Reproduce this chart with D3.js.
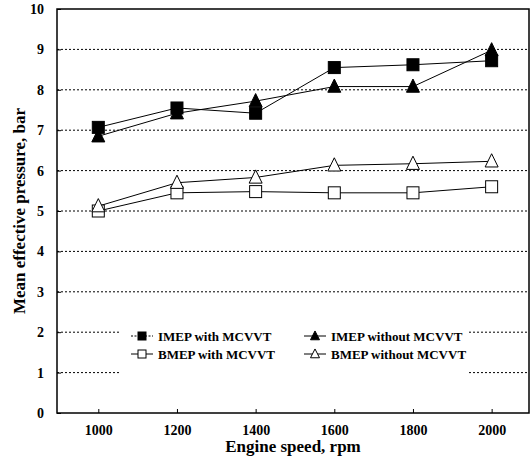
<!DOCTYPE html>
<html>
<head>
<meta charset="utf-8">
<script src="https://cdn.jsdelivr.net/npm/d3@7"></script>
<style>
body { margin: 0; background: #fff; }
text { font-family: "Liberation Serif", "Times New Roman", serif; font-weight: bold; fill: #000; }
</style>
</head>
<body>
<svg width="532" height="460"></svg>
<script>
var speeds = [1000, 1200, 1400, 1600, 1800, 2000];
var imepWith = [7.07, 7.55, 7.42, 8.55, 8.62, 8.72];
var imepWithout = [6.85, 7.42, 7.72, 8.08, 8.08, 8.98];
var bmepWith = [5.0, 5.45, 5.48, 5.45, 5.45, 5.6];
var bmepWithout = [5.12, 5.7, 5.83, 6.13, 6.17, 6.23];
var yTicks = [0, 1, 2, 3, 4, 5, 6, 7, 8, 9, 10];

var series = [
  {name: "IMEP with MCVVT", values: imepWith, shape: "square", fill: "#000", dash: "2,1.5"},
  {name: "IMEP without MCVVT", values: imepWithout, shape: "triangle", fill: "#000", dash: null},
  {name: "BMEP with MCVVT", values: bmepWith, shape: "square", fill: "#fff", dash: null},
  {name: "BMEP without MCVVT", values: bmepWithout, shape: "triangle", fill: "#fff", dash: null}
];

var svg = d3.select("svg");
var plotLeft = 57, plotRight = 529, plotTop = 9, plotBottom = 413;

var x = d3.scaleLinear().domain([895, 2095]).range([plotLeft, plotRight]);
var y = d3.scaleLinear().domain([0, 10]).range([plotBottom, plotTop]);

// dotted gridlines
svg.append("g")
  .selectAll("line")
  .data(yTicks.filter(d => d > 0 && d < 10))
  .enter()
  .append("line")
  .attr("x1", plotLeft).attr("x2", plotRight)
  .attr("y1", d => y(d)).attr("y2", d => y(d))
  .attr("stroke", "#000")
  .attr("stroke-width", 1)
  .attr("stroke-dasharray", "2,2");

// legend background hides the grid behind it
svg.append("rect")
  .attr("x", 121).attr("y", 318)
  .attr("width", 346).attr("height", 64)
  .attr("fill", "#fff");

// frame
svg.append("rect")
  .attr("x", plotLeft).attr("y", plotTop)
  .attr("width", plotRight - plotLeft).attr("height", plotBottom - plotTop)
  .attr("fill", "none")
  .attr("stroke", "#000")
  .attr("stroke-width", 1.5);

// axes
var xAxis = svg.append("g")
  .attr("transform", "translate(0," + plotBottom + ")")
  .call(d3.axisBottom(x).tickValues(speeds).tickSize(-4).tickPadding(12).tickFormat(d3.format("d")));
xAxis.select(".domain").remove();
xAxis.selectAll("text").style("font-size", "14px");

var yAxis = svg.append("g")
  .attr("transform", "translate(" + plotLeft + ",0)")
  .call(d3.axisLeft(y).tickValues(yTicks).tickSize(-4).tickPadding(13));
yAxis.select(".domain").remove();
yAxis.selectAll("text").style("font-size", "14px");

// lines
var line = d3.line()
  .x((d, i) => x(speeds[i]))
  .y(d => y(d));

svg.selectAll(".series")
  .data(series)
  .enter()
  .append("path")
  .attr("class", "series")
  .attr("d", d => line(d.values))
  .attr("fill", "none")
  .attr("stroke", "#000")
  .attr("stroke-width", 1);

function drawMarker(g, shape, fill, size) {
  if (shape === "square") {
    g.append("rect")
      .attr("x", -size / 2).attr("y", -size / 2)
      .attr("width", size).attr("height", size)
      .attr("fill", fill).attr("stroke", "#000").attr("stroke-width", 1);
  } else {
    var h = size * 1.05;
    g.append("path")
      .attr("d", "M0," + (-h * 0.6) + "L" + (size / 2 + 0.5) + "," + (h * 0.45) + "L" + (-size / 2 - 0.5) + "," + (h * 0.45) + "Z")
      .attr("fill", fill).attr("stroke", "#000").attr("stroke-width", 1);
  }
}

series.forEach(function(s) {
  s.values.forEach(function(v, i) {
    var g = svg.append("g").attr("transform", "translate(" + x(speeds[i]) + "," + y(v) + ")");
    drawMarker(g, s.shape, s.fill, 12);
  });
});

// legend
var legendPos = [[131, 336], [304, 336], [131, 354], [304, 354]];
series.forEach(function(s, j) {
  var p = legendPos[j];
  var g = svg.append("g").attr("transform", "translate(" + p[0] + "," + p[1] + ")");
  g.append("line")
    .attr("x1", 0).attr("x2", 22).attr("y1", 0).attr("y2", 0)
    .attr("stroke", "#000").attr("stroke-width", 1)
    .attr("stroke-dasharray", s.dash);
  var m = g.append("g").attr("transform", "translate(11,0)");
  drawMarker(m, s.shape, s.fill, 8);
  g.append("text")
    .attr("x", 27).attr("y", 4.5)
    .style("font-size", "13px")
    .text(s.name);
});

// axis titles
svg.append("text")
  .attr("x", 293).attr("y", 452)
  .attr("text-anchor", "middle")
  .style("font-size", "17px")
  .text("Engine speed, rpm");

svg.append("text")
  .attr("transform", "translate(25,211) rotate(-90)")
  .attr("text-anchor", "middle")
  .style("font-size", "17px")
  .text("Mean effective pressure, bar");
</script>
</body>
</html>
